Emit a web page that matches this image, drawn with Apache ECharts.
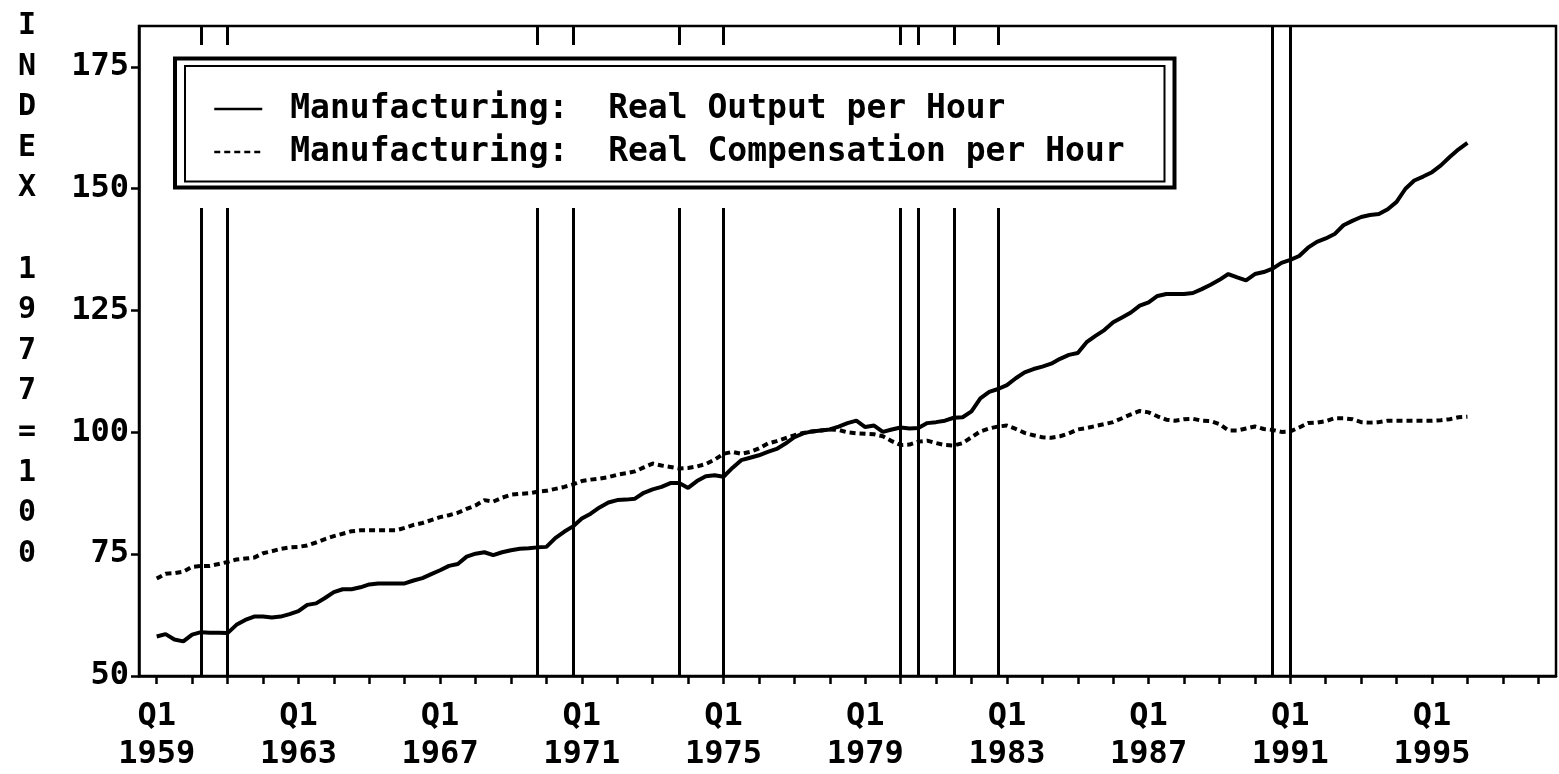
<!DOCTYPE html>
<html>
<head>
<meta charset="utf-8">
<script src="https://cdn.jsdelivr.net/npm/echarts@6/dist/echarts.min.js"></script>
<style>
  html, body { margin: 0; padding: 0; background: #fff; }
  #chart { width: 1559px; height: 774px; }
</style>
</head>
<body>
<div id="chart"></div>
<script>
// quarterly, 1959Q1 .. 1996Q1, index 1977 = 100
var outputPerHour = [
  58.1, 58.6, 57.5, 57.1, 58.5, 59.0, 58.9, 58.9, 58.8, 60.5, 61.5, 62.2,
  62.2, 62.0, 62.2, 62.7, 63.3, 64.6, 64.9, 66.0, 67.2, 67.8, 67.8, 68.2,
  68.8, 69.0, 69.0, 69.0, 69.0, 69.6, 70.1, 70.9, 71.7, 72.6, 73.0, 74.5,
  75.1, 75.4, 74.8, 75.4, 75.8, 76.1, 76.2, 76.4, 76.5, 78.3, 79.6, 80.7,
  82.3, 83.3, 84.6, 85.6, 86.1, 86.2, 86.4, 87.6, 88.3, 88.8, 89.6, 89.6,
  88.6, 90.0, 91.0, 91.2, 90.9, 92.7, 94.3, 94.8, 95.3, 96.0, 96.6, 97.7,
  99.0, 99.8, 100.2, 100.4, 100.6, 101.2, 101.9, 102.4, 101.1, 101.4, 100.1, 100.6,
  101.0, 100.8, 100.9, 101.9, 102.1, 102.4, 103.0, 103.1, 104.3, 107.0, 108.3, 108.9,
  109.7, 111.1, 112.3, 113.0, 113.5, 114.1, 115.1, 115.9, 116.3, 118.5, 119.8, 121.0,
  122.6, 123.6, 124.6, 126.0, 126.7, 128.0, 128.4, 128.4, 128.4, 128.6, 129.4, 130.3,
  131.3, 132.5, 131.8, 131.2, 132.5, 132.9, 133.6, 134.8, 135.4, 136.2, 137.9, 139.1,
  139.8, 140.7, 142.5, 143.4, 144.2, 144.6, 144.8, 145.8, 147.3, 150.0, 151.7, 152.5,
  153.4, 154.8, 156.5, 158.1, 159.4
];
var compPerHour = [
  70.0, 71.0, 71.1, 71.4, 72.4, 72.6, 72.6, 73.0, 73.4, 73.9, 74.1, 74.3,
  75.2, 75.6, 76.1, 76.4, 76.5, 76.8, 77.4, 78.1, 78.7, 79.2, 79.7, 79.9,
  79.9, 79.9, 79.9, 79.9, 80.4, 81.0, 81.4, 82.0, 82.6, 83.0, 83.5, 84.3,
  85.0, 86.1, 85.8, 86.6, 87.2, 87.4, 87.5, 87.8, 88.0, 88.4, 88.8, 89.3,
  90.0, 90.3, 90.5, 90.8, 91.3, 91.6, 92.0, 92.8, 93.6, 93.2, 92.9, 92.6,
  92.7, 93.0, 93.5, 94.4, 95.6, 96.0, 95.6, 96.0, 96.7, 97.7, 98.2, 98.8,
  99.4, 99.9, 100.2, 100.4, 100.6, 100.5, 100.0, 99.8, 99.7, 99.6, 99.2, 98.2,
  97.4, 97.5, 98.1, 98.3, 97.8, 97.4, 97.3, 97.8, 99.0, 100.2, 100.8, 101.2,
  101.4, 100.7, 99.9, 99.4, 99.0, 98.9, 99.2, 99.8, 100.6, 100.9, 101.3, 101.7,
  102.1, 102.9, 103.7, 104.4, 104.1, 103.3, 102.6, 102.4, 102.7, 102.8, 102.4, 102.3,
  101.7, 100.4, 100.4, 100.8, 101.2, 100.7, 100.5, 100.1, 100.2, 101.0, 101.9, 102.0,
  102.3, 102.9, 102.9, 102.7, 102.1, 102.0, 102.1, 102.4, 102.4, 102.4, 102.4, 102.4,
  102.4, 102.5, 102.7, 103.1, 103.2
];
// recession peaks / troughs (vertical lines)
var recessionPeaks   = ['1960Q2', '1969Q4', '1973Q4', '1980Q1', '1981Q3', '1990Q3'];
var recessionTroughs = ['1961Q1', '1970Q4', '1975Q1', '1980Q3', '1982Q4', '1991Q1'];
var yTicks = [50, 75, 100, 125, 150, 175];
var seriesNames = ['Manufacturing:  Real Output per Hour', 'Manufacturing:  Real Compensation per Hour'];
var yTitle = 'INDEX 1977=100';

// axis runs 1958Q3 .. 1998Q3, data starts at 1959Q1
var quarters = [];
for (var yr = 1958; yr <= 1998; yr++) {
  for (var q = 1; q <= 4; q++) quarters.push(yr + 'Q' + q);
}
quarters = quarters.slice(quarters.indexOf('1958Q3'), quarters.indexOf('1998Q3') + 1);
var lead = quarters.indexOf('1959Q1');
function pad(arr) {
  var out = [];
  for (var i = 0; i < lead; i++) out.push(null);
  return out.concat(arr);
}

var FONT = '"DejaVu Sans Mono", monospace';
var recessionLines = recessionPeaks.concat(recessionTroughs).map(function (q) {
  return { xAxis: q };
});

var myChart = echarts.init(document.getElementById('chart'));
var option = {
  animation: false,
  backgroundColor: '#fff',
  grid: {
    left: 139, right: 3, top: 26, bottom: 96,
    show: true, borderColor: '#000', borderWidth: 2.5
  },
  xAxis: {
    type: 'category',
    data: quarters,
    boundaryGap: false,
    axisLine: { lineStyle: { color: '#000', width: 2.5 } },
    axisTick: {
      length: 8, lineStyle: { color: '#000', width: 2.5 },
      interval: function (i, v) { return /Q1$/.test(v); }
    },
    axisLabel: {
      interval: function (i, v) {
        return /Q1$/.test(v) && (parseInt(v, 10) - 1959) % 4 === 0;
      },
      formatter: function (v) { return 'Q1\n' + v.slice(0, 4); },
      color: '#000', fontFamily: FONT, fontWeight: 'bold', fontSize: 32,
      lineHeight: 38, margin: 22, hideOverlap: false
    },
    splitLine: { show: false }
  },
  yAxis: {
    type: 'value',
    min: 50, max: 183.4,
    axisLine: { show: true, lineStyle: { color: '#000', width: 2.5 } },
    axisTick: { show: true, length: 8, customValues: yTicks, lineStyle: { color: '#000', width: 2.5 } },
    axisLabel: {
      customValues: yTicks,
      color: '#000', fontFamily: FONT, fontWeight: 'bold', fontSize: 32, margin: 10
    },
    splitLine: { show: false }
  },
  legend: {
    z: 60,
    orient: 'vertical',
    left: 208, top: 86,
    itemWidth: 48, itemHeight: 14, itemGap: 7,
    lineStyle: { width: 2.5 },
    itemStyle: { opacity: 0 },
    textStyle: {
      color: '#000', fontFamily: FONT, fontWeight: 'bold', fontSize: 33,
      lineHeight: 36, padding: [0, 0, 0, 23]
    },
    data: seriesNames
  },
  graphic: [
    // white gap around the legend (recession lines are broken there)
    { type: 'rect', z: 50, silent: true,
      shape: { x: 160, y: 45, width: 1032, height: 163 },
      style: { fill: '#fff' } },
    { type: 'rect', z: 51, silent: true,
      shape: { x: 175, y: 58.5, width: 999.5, height: 129 },
      style: { fill: 'none', stroke: '#000', lineWidth: 4 } },
    { type: 'rect', z: 51, silent: true,
      shape: { x: 185, y: 66, width: 979.5, height: 115.5 },
      style: { fill: 'none', stroke: '#000', lineWidth: 2 } },
    { type: 'text', z: 51, silent: true,
      style: {
        text: yTitle.split('').map(function (c) { return c === ' ' ? '' : c; }).join('\n'),
        x: 27, y: 6, textAlign: 'center',
        fontFamily: FONT, fontWeight: 'bold', fontSize: 30, lineHeight: 40.6, fill: '#000'
      } }
  ],
  series: [
    {
      name: seriesNames[0],
      type: 'line',
      data: pad(outputPerHour),
      symbol: 'none',
      lineStyle: { color: '#000', width: 4 },
      itemStyle: { color: '#000' },
      markLine: {
        silent: true,
        symbol: ['none', 'none'],
        label: { show: false },
        lineStyle: { color: '#000', width: 3, type: 'solid' },
        data: recessionLines
      }
    },
    {
      name: seriesNames[1],
      type: 'line',
      data: pad(compPerHour),
      symbol: 'none',
      lineStyle: { color: '#000', width: 4, type: [6, 4] },
      itemStyle: { color: '#000' }
    }
  ]
};
myChart.setOption(option);
</script>
</body>
</html>
